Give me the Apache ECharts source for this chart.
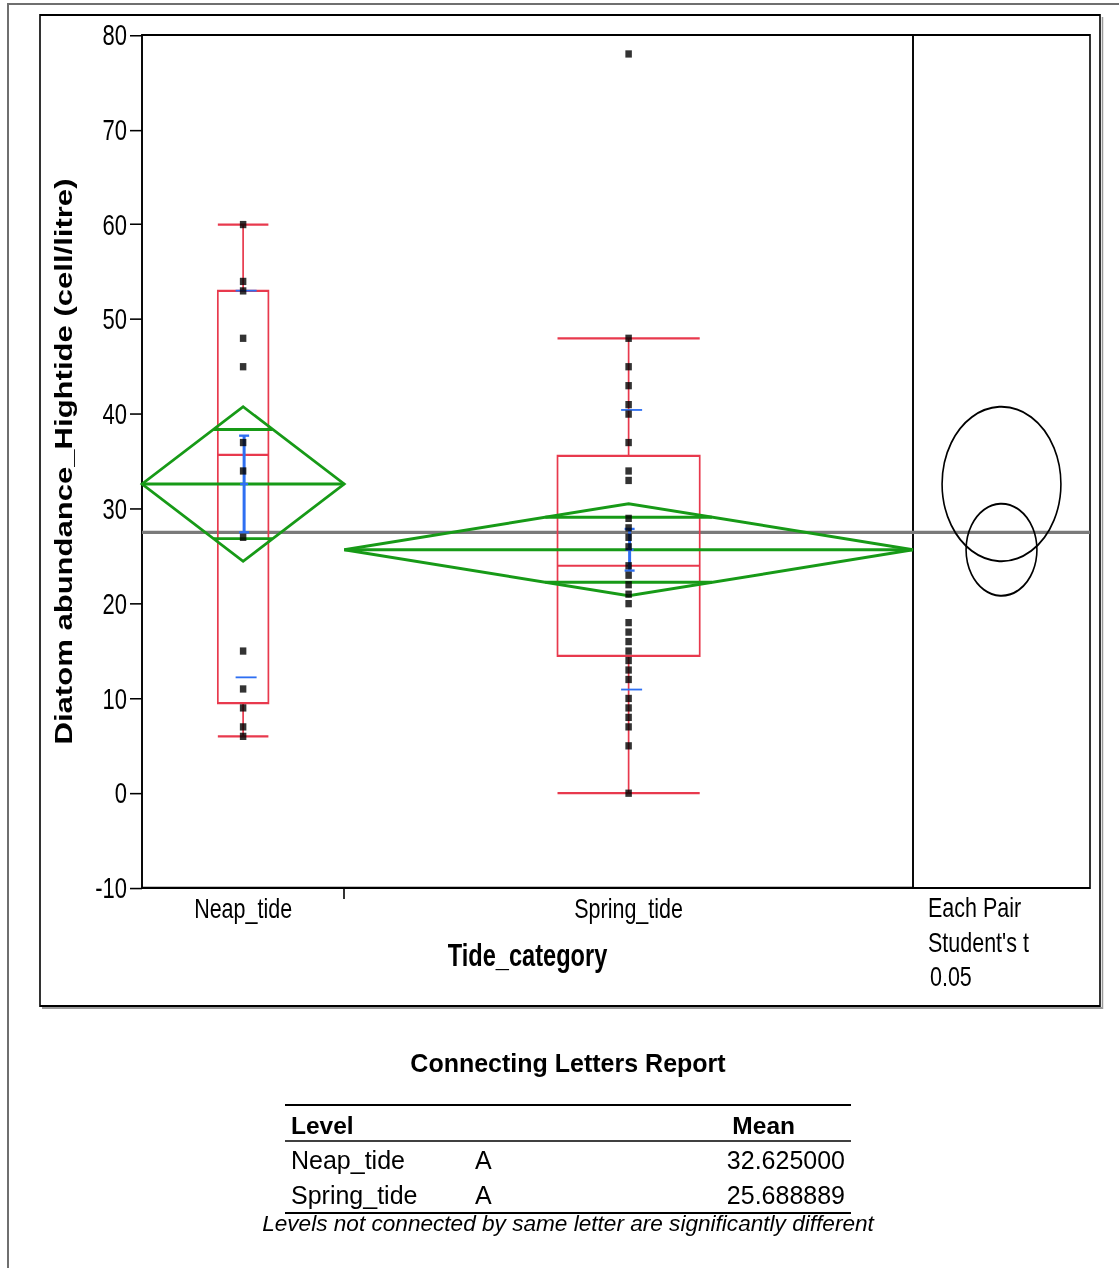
<!DOCTYPE html>
<html><head><meta charset="utf-8">
<script src="https://cdn.jsdelivr.net/npm/echarts@6/dist/echarts.min.js"></script>
<style>
html,body{margin:0;padding:0;background:#fff;width:1119px;height:1268px;overflow:hidden;}
#page{position:absolute;left:0;top:0;width:1119px;height:1268px;}
#plot{position:absolute;left:0;top:0;width:1119px;height:780px;transform:scaleY(1.3);transform-origin:0 0;}
</style></head><body>
<div id="page"></div><div id="plot"></div>
<script>
// ---------------- data ----------------
const categories = ['Neap_tide', 'Spring_tide'];
const groupN = [16, 45];
const neapValues = [60, 54, 53, 48, 45, 37, 34, 27, 15, 11, 9, 7, 6];
const springValues = [78, 48, 45, 43, 41, 40, 37, 34, 33, 29, 28, 27, 26, 24, 23, 22, 21, 20, 18, 17, 16, 15, 14, 13, 12, 10, 9, 8, 7, 5, 0];
// whisker low, Q1, median, Q3, whisker high
const neapBox = [6, 9.5, 35.7, 53, 60];
const springBox = [0, 14.5, 24, 35.6, 48];
const groupMeans = [32.625, 25.688889];
const groupSD = [20.4, 14.75];
const ciHalf = [8.15, 4.86];
const grandMean = 27.51;
const yMin = -10, yMax = 80, yStep = 10;
const letters = ['A', 'A'];
const testLabels = ['Each Pair', "Student's t", '0.05'];

// ---------------- styles ----------------
const K = 1.3;              // vertical stretch of the graph picture
const FONT = 'Liberation Sans';
const RED = '#e8394d', GREEN = '#179a17', BLUE = '#2e6ff2', GRAY = '#7a7a7a';
const BOX_FRAC = 0.25;
const py = v => v / K;      // page y -> pre-stretch y

const total = groupN.reduce((a, b) => a + b, 0);
const starts = [];
groupN.reduce((acc, n) => { starts.push(acc); return acc + n; }, 0);
const centers = groupN.map((n, i) => starts[i] + n / 2);
const boundaries = starts.slice(1);

function renderBox(params, api) {
  const xc = api.value(0), n = api.value(6);
  const hw = n * BOX_FRAC / 2;
  const xl = api.coord([xc - hw, 0])[0], xr = api.coord([xc + hw, 0])[0], xm = api.coord([xc, 0])[0];
  const y = k => api.coord([xc, api.value(k)])[1];
  const st = { stroke: RED, lineWidth: 1.7, fill: 'none' };
  return { type: 'group', children: [
    { type: 'line', shape: { x1: xm, y1: y(1), x2: xm, y2: y(2) }, style: st },
    { type: 'line', shape: { x1: xm, y1: y(4), x2: xm, y2: y(5) }, style: st },
    { type: 'line', shape: { x1: xl, y1: y(1), x2: xr, y2: y(1) }, style: st },
    { type: 'line', shape: { x1: xl, y1: y(5), x2: xr, y2: y(5) }, style: st },
    { type: 'rect', shape: { x: xl, y: y(4), width: xr - xl, height: y(2) - y(4) }, style: st },
    { type: 'line', shape: { x1: xl, y1: y(3), x2: xr, y2: y(3) }, style: st }
  ]};
}

function renderDiamond(params, api) {
  const xc = api.value(0), m = api.value(1), ci = api.value(2), n = api.value(3);
  const xs = xc - n / 2, xe = xc + n / 2;
  const P = (x, y) => api.coord([x, y]);
  const d = ci / Math.SQRT2, f = (n / 2) * (1 - 1 / Math.SQRT2);
  const st = { stroke: GREEN, lineWidth: 2.3, fill: 'none' };
  const ln = (a, b) => ({ type: 'line', shape: { x1: a[0], y1: a[1], x2: b[0], y2: b[1] }, style: st });
  return { type: 'group', children: [
    { type: 'polygon', shape: { points: [P(xs, m), P(xc, m + ci), P(xe, m), P(xc, m - ci)] }, style: st },
    ln(P(xs, m), P(xe, m)),
    ln(P(xc - f, m + d), P(xc + f, m + d)),
    ln(P(xc - f, m - d), P(xc + f, m - d))
  ]};
}

function renderBlue(params, api) {
  const xc = api.value(0), m = api.value(1), sd = api.value(2), n = api.value(3);
  const se = sd / Math.sqrt(n);
  const p = api.coord([xc, m]);
  const px = p[0] + 1;
  const yv = v => api.coord([xc, v])[1];
  const hl = (y, a, b, w) => ({ type: 'line', shape: { x1: px + a, y1: y, x2: px + b, y2: y }, style: { stroke: BLUE, lineWidth: w } });
  return { type: 'group', children: [
    { type: 'line', shape: { x1: px, y1: yv(m + se), x2: px, y2: yv(m - se) }, style: { stroke: BLUE, lineWidth: 3 } },
    hl(yv(m + se), -5, 5, 1.8),
    hl(yv(m - se), -5, 5, 1.8),
    hl(p[1], -4, 4, 1.8),
    hl(yv(m + sd), -8.5, 12.5, 1.4),
    hl(yv(m - sd), -8.5, 12.5, 1.4)
  ]};
}

function renderCircle(params, api) {
  const c = api.coord([api.value(0), api.value(1)]);
  const r = api.size([0, api.value(2)])[1];
  return { type: 'circle', shape: { cx: c[0], cy: c[1], r: r }, style: { stroke: '#000', lineWidth: 1.6, fill: 'none' } };
}

const gridTop = py(35), gridBottom = py(888);
const plotChart = echarts.init(document.getElementById('plot'), null, { renderer: 'svg' });
plotChart.setOption({
  animation: false,
  backgroundColor: 'transparent',
  textStyle: { fontFamily: FONT },
  grid: [
    { left: 142, top: gridTop, width: 771, height: gridBottom - gridTop, show: true, borderColor: '#000', borderWidth: 1.6 },
    { left: 913, top: gridTop, width: 177, height: gridBottom - gridTop, show: true, borderColor: '#000', borderWidth: 1.6 }
  ],
  xAxis: [
    { type: 'value', gridIndex: 0, min: 0, max: total,
      axisLine: { show: true, onZero: false, lineStyle: { color: '#000', width: 1.6 } },
      axisTick: { show: true, customValues: boundaries, length: 8.5, lineStyle: { color: '#000', width: 1.6 } },
      axisLabel: { customValues: centers, margin: 4, fontSize: 21.5, color: '#000', fontFamily: FONT,
        formatter: v => { const i = centers.findIndex(c => Math.abs(c - v) < 1e-6); return i >= 0 ? categories[i] : ''; } },
      splitLine: { show: false },
      name: 'Tide_category', nameLocation: 'middle', nameGap: 40,
      nameTextStyle: { fontSize: 23.6, fontWeight: 'bold', color: '#000', fontFamily: FONT } },
    { type: 'value', gridIndex: 1, min: 0, max: 1, show: false }
  ],
  yAxis: [
    { type: 'value', gridIndex: 0, min: yMin, max: yMax, interval: yStep,
      axisLine: { show: true, onZero: false, lineStyle: { color: '#000', width: 1.6 } },
      axisTick: { show: true, length: 12, lineStyle: { color: '#000', width: 1.2 } },
      axisLabel: { margin: 15, fontSize: 22, color: '#000', fontFamily: FONT },
      splitLine: { show: false },
      name: 'Diatom abundance_Hightide (cell/litre)', nameLocation: 'middle', nameGap: 66,
      nameTextStyle: { fontSize: 23.9, fontWeight: 'bold', color: '#000', fontFamily: FONT } },
    { type: 'value', gridIndex: 1, min: yMin, max: yMax, interval: yStep, show: false }
  ],
  series: [
    { type: 'line', xAxisIndex: 0, yAxisIndex: 0, data: [[0, grandMean], [total, grandMean]], symbol: 'none', silent: true, z: 1,
      lineStyle: { color: GRAY, width: 2.5 } },
    { type: 'line', xAxisIndex: 1, yAxisIndex: 1, data: [[0, grandMean], [1, grandMean]], symbol: 'none', silent: true, z: 1,
      lineStyle: { color: GRAY, width: 2.5 } },
    { type: 'custom', xAxisIndex: 0, yAxisIndex: 0, renderItem: renderBox, z: 2,
      data: [[centers[0], ...neapBox, groupN[0]], [centers[1], ...springBox, groupN[1]]] },
    { type: 'custom', xAxisIndex: 0, yAxisIndex: 0, renderItem: renderDiamond, z: 3,
      data: groupMeans.map((m, i) => [centers[i], m, ciHalf[i], groupN[i]]) },
    { type: 'custom', xAxisIndex: 0, yAxisIndex: 0, renderItem: renderBlue, z: 4,
      data: groupMeans.map((m, i) => [centers[i], m, groupSD[i], groupN[i]]) },
    { type: 'scatter', xAxisIndex: 0, yAxisIndex: 0, symbol: 'rect', symbolSize: [6.5, 5.6], z: 5,
      itemStyle: { color: '#000' },
      data: neapValues.map(v => [centers[0], v]).concat(springValues.map(v => [centers[1], v])) },
    { type: 'custom', xAxisIndex: 1, yAxisIndex: 1, renderItem: renderCircle, z: 4,
      data: groupMeans.map((m, i) => [0.5, m, ciHalf[i]]) }
  ],
  graphic: [
    { type: 'polyline', shape: { points: [[1102.5, py(17)], [1102.5, py(1008)], [42, py(1008)]] }, style: { stroke: '#9a9a9a', lineWidth: 1.5, fill: 'none' } },
    { type: 'rect', shape: { x: 40, y: py(15), width: 1060, height: py(1006) - py(15) }, style: { stroke: '#000', lineWidth: 1.6, fill: 'none' } },
    ...testLabels.map((t, i) => ({ type: 'text', x: i === 2 ? 930 : 928, y: py([907, 942, 976][i]),
      style: { text: t, fontSize: 21.5, fontFamily: FONT, fill: '#000', align: 'left', verticalAlign: 'middle' } }))
  ]
});

// ---------------- report (not stretched) ----------------
const pageChart = echarts.init(document.getElementById('page'), null, { renderer: 'canvas' });
const txt = (t, x, y, o) => ({ type: 'text', x: x, y: y,
  style: Object.assign({ text: t, fontSize: 25, fontFamily: FONT, fill: '#000', align: 'left', verticalAlign: 'middle' }, o || {}) });
const rule = (y, w) => ({ type: 'line', shape: { x1: 285, y1: y, x2: 851, y2: y }, style: { stroke: '#000', lineWidth: w } });
const rowY = [1162, 1197];
pageChart.setOption({
  animation: false,
  graphic: [
    { type: 'polyline', shape: { points: [[8, 1268], [8, 4], [1119, 4]] }, style: { stroke: '#6f6f6f', lineWidth: 2, fill: 'none' } },
    txt('Connecting Letters Report', 568, 1065, { align: 'center', fontWeight: 'bold', fontSize: 25 }),
    rule(1105, 2),
    txt('Level', 291, 1127, { fontWeight: 'bold', fontSize: 24.5 }),
    txt('Mean', 795, 1127, { fontWeight: 'bold', fontSize: 24.5, align: 'right' }),
    rule(1141, 1.5),
    ...categories.map((c, i) => txt(c, 291, rowY[i], { fontSize: 25 })),
    ...letters.map((l, i) => txt(l, 475, rowY[i], { fontSize: 25 })),
    ...groupMeans.map((m, i) => txt(m.toFixed(6), 845, rowY[i], { fontSize: 25, align: 'right' })),
    rule(1213, 2),
    txt('Levels not connected by same letter are significantly different', 568, 1225, { align: 'center', fontStyle: 'italic', fontSize: 22.6 })
  ]
});
</script></body></html>
